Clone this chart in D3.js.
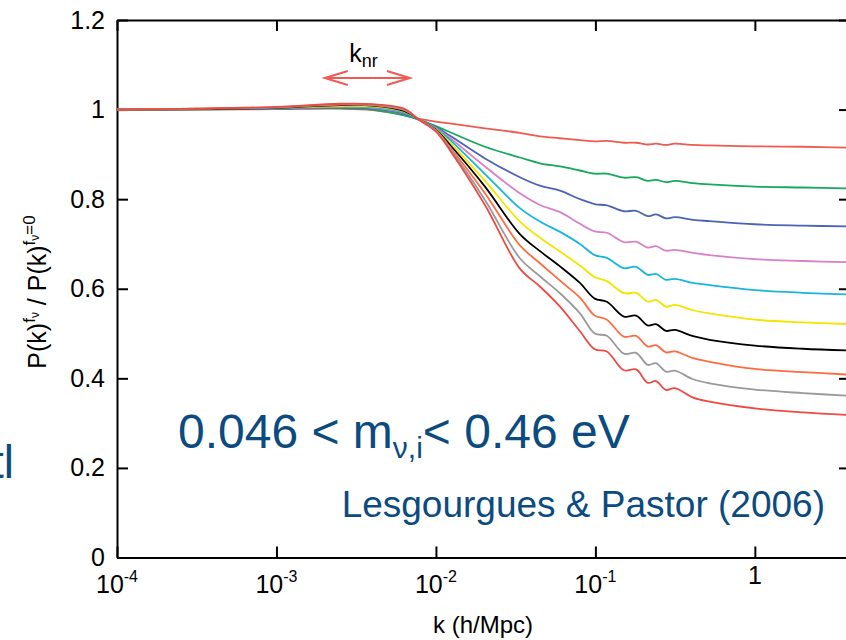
<!DOCTYPE html>
<html>
<head>
<meta charset="utf-8">
<script src="https://cdn.jsdelivr.net/npm/d3@7"></script>
<style>
body { margin: 0; background: #fff; }
svg { display: block; font-family: "Liberation Sans", Arial, Helvetica, sans-serif; }
.axis path, .axis line { stroke: #000; stroke-width: 2px; }
</style>
</head>
<body>
<script>
var kValues = [0.0001,0.000316,0.001,0.0025,0.004,0.0063,0.0079,0.01,0.0122,0.0203,0.0336,0.0449,0.06,0.08,0.099,0.118,0.151,0.18,0.213,0.24,0.277,0.315,0.41,0.52,1,2,3.95];

// ratio P(k)^fnu / P(k)^fnu=0, lightest to heaviest
var ratio0 = [1.000,1.000,1.001,1.002,0.999,0.988,0.979,0.973,0.969,0.958,0.948,0.940,0.936,0.932,0.929,0.930,0.926,0.926,0.922,0.924,0.921,0.924,0.921,0.920,0.918,0.917,0.915];
var ratio1 = [1.000,1.000,1.002,1.003,1.000,0.987,0.977,0.963,0.950,0.917,0.893,0.880,0.873,0.864,0.857,0.857,0.848,0.849,0.841,0.843,0.838,0.841,0.836,0.833,0.828,0.826,0.824];
var ratio2 = [1.000,1.001,1.002,1.005,1.002,0.991,0.977,0.961,0.942,0.891,0.849,0.830,0.819,0.800,0.789,0.786,0.773,0.774,0.762,0.766,0.757,0.760,0.754,0.751,0.744,0.741,0.739];
var ratio3 = [1.000,1.001,1.003,1.006,1.004,0.993,0.977,0.959,0.937,0.873,0.813,0.787,0.771,0.745,0.728,0.725,0.704,0.705,0.692,0.695,0.685,0.687,0.680,0.675,0.666,0.662,0.659];
var ratio4 = [1.000,1.001,1.003,1.007,1.005,0.994,0.977,0.958,0.933,0.856,0.780,0.750,0.727,0.700,0.675,0.669,0.646,0.649,0.631,0.633,0.620,0.622,0.613,0.608,0.597,0.591,0.587];
var ratio5 = [1.000,1.001,1.004,1.008,1.007,0.996,0.977,0.956,0.927,0.841,0.750,0.714,0.683,0.652,0.626,0.617,0.590,0.591,0.571,0.575,0.560,0.564,0.552,0.545,0.531,0.525,0.521];
var ratio6 = [1.000,1.001,1.004,1.010,1.009,0.997,0.977,0.955,0.922,0.828,0.722,0.684,0.650,0.613,0.578,0.571,0.538,0.540,0.518,0.521,0.506,0.508,0.494,0.486,0.473,0.466,0.462];
var ratio7 = [1.000,1.002,1.005,1.011,1.010,0.999,0.977,0.954,0.917,0.813,0.697,0.657,0.618,0.580,0.540,0.531,0.493,0.495,0.471,0.474,0.458,0.460,0.445,0.437,0.421,0.414,0.408];
var ratio8 = [1.000,1.002,1.005,1.012,1.011,1.000,0.977,0.953,0.914,0.798,0.668,0.628,0.590,0.545,0.500,0.495,0.455,0.457,0.430,0.434,0.415,0.417,0.398,0.389,0.375,0.367,0.361];
var ratio9 = [1.000,1.002,1.006,1.013,1.012,1.002,0.976,0.951,0.910,0.787,0.645,0.605,0.560,0.505,0.465,0.460,0.418,0.420,0.390,0.394,0.374,0.378,0.357,0.348,0.333,0.324,0.318];

var allRatios = [ratio0,ratio1,ratio2,ratio3,ratio4,ratio5,ratio6,ratio7,ratio8,ratio9];
var colors = ["#f05a50","#16a85c","#4a64b6","#d880c8","#18b6dc","#f2e600","#000000","#ff6b40","#9a9a9a","#ee4a44"];

var xTicks = [1e-4,1e-3,1e-2,1e-1,1];
var xTickExp = ["-4","-3","-2","-1",""];
var yTicks = [0,0.2,0.4,0.6,0.8,1,1.2];
var knrRange = [0.00201,0.00687]; // arrow ends

var width = 846, height = 640;
var margin = {left:117, right:-4, top:20, bottom:82.5};
var innerW = width - margin.left - margin.right;
var innerH = height - margin.top - margin.bottom;
var blue = "#0b4b80";

// Scales
var x = d3.scaleLog()
          .domain([1e-4, 3.95])
          .range([0, innerW]);
var y = d3.scaleLinear()
          .domain([0, 1.2])
          .range([innerH, 0]);

var svg = d3.select("body").append("svg").attr("width", width).attr("height", height);
var chartGroup = svg.append("g").attr("transform","translate("+margin.left+","+margin.top+")");

// Axes, ticks pointing inward on all four sides
chartGroup.append("g").attr("class","axis")
          .attr("transform","translate(0,"+innerH+")")
          .call(d3.axisBottom(x).tickValues(xTicks).tickSizeInner(-11).tickSizeOuter(0).tickFormat(""));
chartGroup.append("g").attr("class","axis")
          .call(d3.axisTop(x).tickValues(xTicks).tickSizeInner(-11).tickSizeOuter(0).tickFormat(""));
chartGroup.append("g").attr("class","axis")
          .call(d3.axisLeft(y).tickValues(yTicks).tickSizeInner(-11).tickSizeOuter(0).tickPadding(12)
                .tickFormat(function(d){ return d3.format("~g")(d); }));
chartGroup.append("g").attr("class","axis")
          .attr("transform","translate("+innerW+",0)")
          .call(d3.axisRight(y).tickValues(yTicks).tickSizeInner(-11).tickSizeOuter(0).tickFormat(""));
chartGroup.selectAll(".axis text").attr("font-size", 25).attr("fill", "#000").attr("font-family", null);

// x tick labels with exponents
var xLab = chartGroup.selectAll(".xlab").data(xTicks).enter().append("text")
          .attr("class","xlab")
          .attr("x", function(d){ return x(d); })
          .attr("y", function(d,i){ return innerH + (xTickExp[i] ? 35 : 26); })
          .attr("text-anchor","middle")
          .attr("font-size", 25);
xLab.append("tspan").text(function(d,i){ return xTickExp[i] ? "10" : "1"; });
xLab.append("tspan").attr("font-size", 16).attr("dy", -11)
          .text(function(d,i){ return xTickExp[i]; });

// Curves
var line = d3.line()
          .x(function(d,i){ return x(kValues[i]); })
          .y(function(d){ return y(d); })
          .curve(d3.curveCatmullRom.alpha(0.5));

chartGroup.selectAll(".curve").data(allRatios).enter().append("path")
          .attr("class","curve")
          .attr("d", line)
          .attr("fill","none")
          .attr("stroke", function(d,i){ return colors[i]; })
          .attr("stroke-width", 1.8);

// k_nr arrow
var arrowY = 58;
var ax0 = x(knrRange[0]), ax1 = x(knrRange[1]);
var arrow = chartGroup.append("g").attr("stroke","#f05a55").attr("stroke-width",2).attr("fill","none");
arrow.append("line").attr("x1",ax0).attr("x2",ax1).attr("y1",arrowY).attr("y2",arrowY);
arrow.append("path").attr("d","M"+(ax0+23)+","+(arrowY-7)+"L"+ax0+","+arrowY+"L"+(ax0+23)+","+(arrowY+7));
arrow.append("path").attr("d","M"+(ax1-23)+","+(arrowY-7)+"L"+ax1+","+arrowY+"L"+(ax1-23)+","+(arrowY+7));
var knr = chartGroup.append("text").attr("x", (ax0+ax1)/2 - 18).attr("y", 42).attr("font-size", 25);
knr.append("tspan").text("k");
knr.append("tspan").attr("font-size", 18).attr("dy", 5).text("nr");

// Axis titles
svg.append("text")
   .attr("x", 483).attr("y", 633)
   .attr("text-anchor","middle")
   .attr("font-size", 24)
   .text("k (h/Mpc)");

var yTitle = svg.append("text")
   .attr("transform","translate(46,292) rotate(-90)")
   .attr("text-anchor","middle")
   .attr("font-size", 25);
yTitle.append("tspan").text("P(k)");
yTitle.append("tspan").attr("font-size",17).attr("dy",-11).text("f");
yTitle.append("tspan").attr("font-size",12).attr("dy",4).text("ν");
yTitle.append("tspan").attr("dy",7).text(" / P(k)");
yTitle.append("tspan").attr("font-size",17).attr("dy",-11).text("f");
yTitle.append("tspan").attr("font-size",12).attr("dy",4).text("ν");
yTitle.append("tspan").attr("font-size",17).attr("dy",-4).text("=0");

// Annotations
var mass = svg.append("text").attr("x", 178).attr("y", 448).attr("font-size", 48).attr("fill", blue);
mass.append("tspan").text("0.046 < m");
mass.append("tspan").attr("font-size", 30).attr("dy", 10).text("ν,i");
mass.append("tspan").attr("dy", -10).text("< 0.46 eV");

svg.append("text").attr("x", 825).attr("y", 517).attr("text-anchor","end")
   .attr("font-size", 37).attr("fill", blue)
   .text("Lesgourgues & Pastor (2006)");

svg.append("text").attr("x", 14).attr("y", 478).attr("text-anchor","end")
   .attr("font-size", 46).attr("fill", blue)
   .text("tl");
</script>
</body>
</html>
